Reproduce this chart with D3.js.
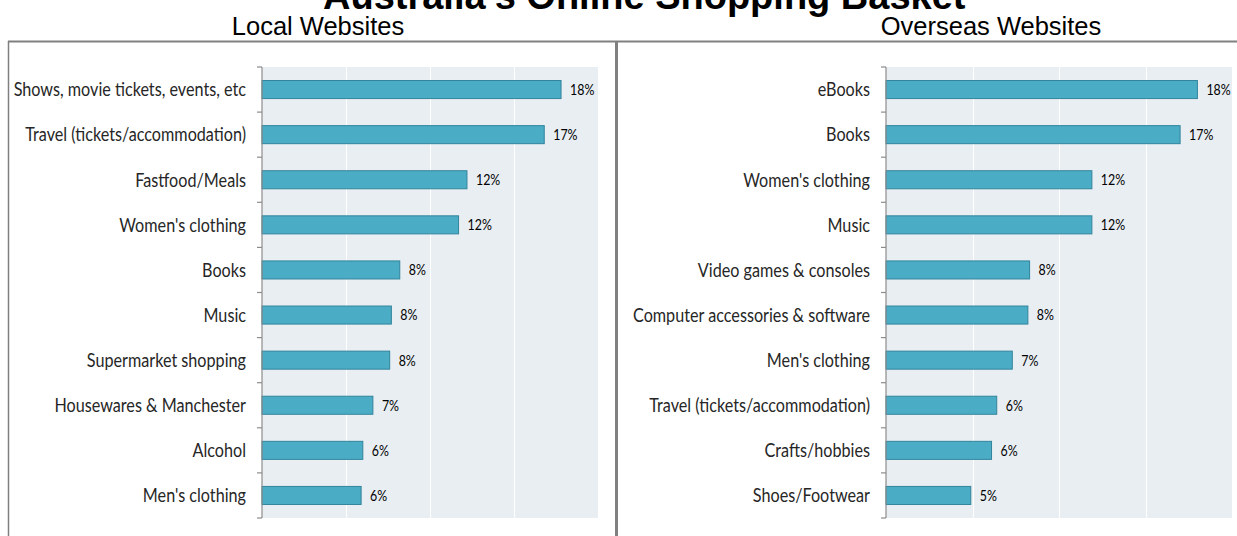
<!DOCTYPE html>
<html>
<head>
<meta charset="utf-8">
<script src="https://cdnjs.cloudflare.com/ajax/libs/d3/7.8.5/d3.min.js"></script>
<style>
  html, body { margin: 0; padding: 0; background: #fff; }
  svg { display: block; }
</style>
</head>
<body>
<svg id="chart" width="1237" height="536"></svg>
<script>
// Share of online shoppers buying each category, by website origin
const localCategories = [
  "Shows, movie tickets, events, etc",
  "Travel (tickets/accommodation)",
  "Fastfood/Meals",
  "Women's clothing",
  "Books",
  "Music",
  "Supermarket shopping",
  "Housewares & Manchester",
  "Alcohol",
  "Men's clothing"
];
const localValues = [0.178, 0.168, 0.122, 0.117, 0.082, 0.077, 0.076, 0.066, 0.060, 0.059];

const overseasCategories = [
  "eBooks",
  "Books",
  "Women's clothing",
  "Music",
  "Video games & consoles",
  "Computer accessories & software",
  "Men's clothing",
  "Travel (tickets/accommodation)",
  "Crafts/hobbies",
  "Shoes/Footwear"
];
const overseasValues = [0.180, 0.170, 0.119, 0.119, 0.083, 0.082, 0.073, 0.064, 0.061, 0.049];

const xTicks = [0, 0.05, 0.10, 0.15, 0.20];

const svg = d3.select("#chart");
const pct = d3.format(".0%");

// Page title (runs off the top edge)
svg.append("text")
  .attr("x", 323).attr("y", 9)
  .attr("font-family", "'Liberation Sans', Arial, sans-serif")
  .attr("font-weight", "bold")
  .attr("font-size", 38)
  .attr("fill", "#000")
  .text("Australia's Online Shopping Basket");

// Panel frames
const frame = svg.append("g").attr("fill", "none").attr("stroke", "#808080");
frame.append("line").attr("x1", 8).attr("x2", 1237).attr("y1", 41.5).attr("y2", 41.5).attr("stroke-width", 2);
frame.append("line").attr("x1", 8.5).attr("x2", 8.5).attr("y1", 41).attr("y2", 540).attr("stroke-width", 1.5);
frame.append("line").attr("x1", 616.5).attr("x2", 616.5).attr("y1", 41).attr("y2", 540).attr("stroke-width", 3);

function panel(opts) {
  const { title, titleX, categories, values, x0, x1 } = opts;
  const y0 = 67, y1 = 518;
  const g = svg.append("g");

  g.append("text")
    .attr("x", titleX).attr("y", 35)
    .attr("text-anchor", "middle")
    .attr("font-family", "'Liberation Sans', Arial, sans-serif")
    .attr("font-size", 25.5)
    .attr("fill", "#000")
    .text(title);

  const x = d3.scaleLinear().domain([0, 0.20]).range([x0, x1]);
  const y = d3.scaleBand().domain(categories).range([y0, y1])
    .paddingInner(0.6).paddingOuter(0.3);
  const step = y.step();

  // plot background
  g.append("rect")
    .attr("x", x(0)).attr("y", y0)
    .attr("width", x(0.20) - x(0)).attr("height", y1 - y0)
    .attr("fill", "#e8eef2");

  // vertical gridlines
  g.selectAll("line.grid").data(xTicks.slice(1, -1)).join("line")
    .attr("class", "grid")
    .attr("x1", d => Math.round(x(d)) + 0.5).attr("x2", d => Math.round(x(d)) + 0.5)
    .attr("y1", y0).attr("y2", y1)
    .attr("stroke", "#ffffff").attr("stroke-width", 1);

  // bars
  g.selectAll("rect.bar").data(values).join("rect")
    .attr("class", "bar")
    .attr("x", x(0))
    .attr("y", (d, i) => y(categories[i]))
    .attr("width", d => x(d) - x(0))
    .attr("height", y.bandwidth())
    .attr("fill", "#4bacc6")
    .attr("stroke", "#31849b")
    .attr("stroke-width", 1);

  // category axis: line plus ticks at band boundaries
  const axis = g.append("g").attr("stroke", "#8c8c8c").attr("stroke-width", 1.2);
  axis.append("line")
    .attr("x1", x(0)).attr("x2", x(0)).attr("y1", y0).attr("y2", y1);
  const bounds = d3.range(categories.length + 1).map(i => y0 + i * step);
  axis.selectAll("line.tick").data(bounds).join("line")
    .attr("class", "tick")
    .attr("x1", x(0) - 5).attr("x2", x(0))
    .attr("y1", d => d).attr("y2", d => d);

  // category labels (condensed)
  g.selectAll("text.cat").data(categories).join("text")
    .attr("class", "cat")
    .attr("transform", d => `translate(${x(0) - 16},${y(d) + y.bandwidth() / 2}) scale(0.83,1)`)
    .attr("dy", "0.35em")
    .attr("text-anchor", "end")
    .attr("font-family", "Lato, 'Open Sans', sans-serif")
    .attr("font-size", 19.5)
    .attr("fill", "#262626")
    .text(d => d);

  // value labels
  g.selectAll("text.val").data(values).join("text")
    .attr("class", "val")
    .attr("transform", (d, i) => `translate(${x(d) + 9},${y(categories[i]) + y.bandwidth() / 2}) scale(0.8,1)`)
    .attr("dy", "0.35em")
    .attr("font-family", "Lato, 'Open Sans', sans-serif")
    .attr("font-size", 15.5)
    .attr("fill", "#000")
    .text(d => pct(d));
}

panel({
  title: "Local Websites", titleX: 318,
  categories: localCategories, values: localValues,
  x0: 262, x1: 598
});

panel({
  title: "Overseas Websites", titleX: 991,
  categories: overseasCategories, values: overseasValues,
  x0: 886, x1: 1232
});
</script>
</body>
</html>
